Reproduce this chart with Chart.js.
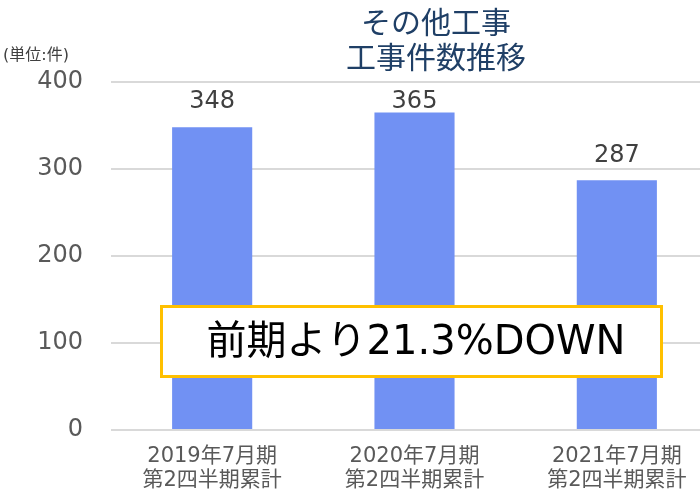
<!DOCTYPE html>
<html>
<head>
<meta charset="utf-8">
<script src="https://cdn.jsdelivr.net/npm/chart.js@4"></script>
<style>
  html, body { margin: 0; padding: 0; overflow: hidden; background: #fff; }
  #wrap { width: 718px; height: 490px; }
</style>
</head>
<body>
<div id="wrap"><canvas id="bar"></canvas></div>
<script>
var categories = [
    ['2019年7月期', '第2四半期累計'],
    ['2020年7月期', '第2四半期累計'],
    ['2021年7月期', '第2四半期累計']
];
var counts = [348, 365, 287];
var yTicks = [0, 100, 200, 300, 400];
var titleLines = ['その他工事', '工事件数推移'];
var unitLabel = '(単位:件)';
var noteText = '前期より21.3%DOWN';

var FONT = '"DejaVu Sans", "Noto Sans CJK JP", sans-serif';

// values above the bars, title, unit and the yellow callout
var extras = {
    id: 'extras',
    afterDatasetsDraw: function (chart) {
        var ctx = chart.ctx;
        var meta = chart.getDatasetMeta(0);
        ctx.save();
        ctx.fillStyle = '#404040';
        ctx.font = '24px ' + FONT;
        ctx.textAlign = 'center';
        ctx.textBaseline = 'bottom';
        meta.data.forEach(function (bar, i) {
            // keep the label inside the plot like the original
            ctx.fillText(counts[i], bar.x, Math.max(bar.y - 13, chart.chartArea.top + 32));
        });

        ctx.fillStyle = '#1f3f66';
        ctx.font = '30px ' + FONT;
        ctx.textBaseline = 'middle';
        ctx.fillText(titleLines[0], 436, 25);
        ctx.fillText(titleLines[1], 436, 60);

        ctx.fillStyle = '#404040';
        ctx.font = '16px ' + FONT;
        ctx.textAlign = 'left';
        ctx.fillText(unitLabel, 3, 56);

        ctx.fillStyle = '#ffffff';
        ctx.fillRect(161, 306, 501, 71);
        ctx.strokeStyle = '#ffc000';
        ctx.lineWidth = 3;
        ctx.strokeRect(161.5, 306.5, 500, 70);
        ctx.fillStyle = '#000000';
        ctx.font = '40px ' + FONT;
        ctx.textAlign = 'center';
        ctx.fillText(noteText, 416, 344);
        ctx.restore();
    }
};

var ctx = document.getElementById('bar').getContext('2d');
var chart = new Chart(ctx, {
    type: 'bar',
    data: {
        labels: categories,
        datasets: [{
            label: '工事件数',
            data: counts,
            backgroundColor: '#7191f3',
            borderWidth: 0,
            categoryPercentage: 1,
            barPercentage: 0.396
        }]
    },
    options: {
        responsive: true,
        maintainAspectRatio: false,
        animation: false,
        layout: { padding: { top: 82, right: 0, bottom: 0, left: 0 } },
        plugins: {
            legend: { display: false },
            tooltip: { enabled: false }
        },
        scales: {
            x: {
                grid: { display: false, drawTicks: false },
                border: { display: false },
                ticks: {
                    color: '#595959',
                    font: { family: FONT, size: 21, lineHeight: 1.15 },
                    padding: 14,
                    maxRotation: 0
                },
                afterFit: function (scale) { scale.height = 60; }
            },
            y: {
                min: 0,
                max: 400,
                afterBuildTicks: function (scale) {
                    scale.ticks = yTicks.map(function (v) { return { value: v }; });
                },
                grid: { color: '#d9d9d9', lineWidth: 2, drawTicks: false },
                border: { display: false },
                ticks: {
                    color: '#595959',
                    font: { family: FONT, size: 24 },
                    padding: 28
                },
                afterFit: function (scale) { scale.width = 111; }
            }
        }
    },
    plugins: [extras]
});
</script>
</body>
</html>
